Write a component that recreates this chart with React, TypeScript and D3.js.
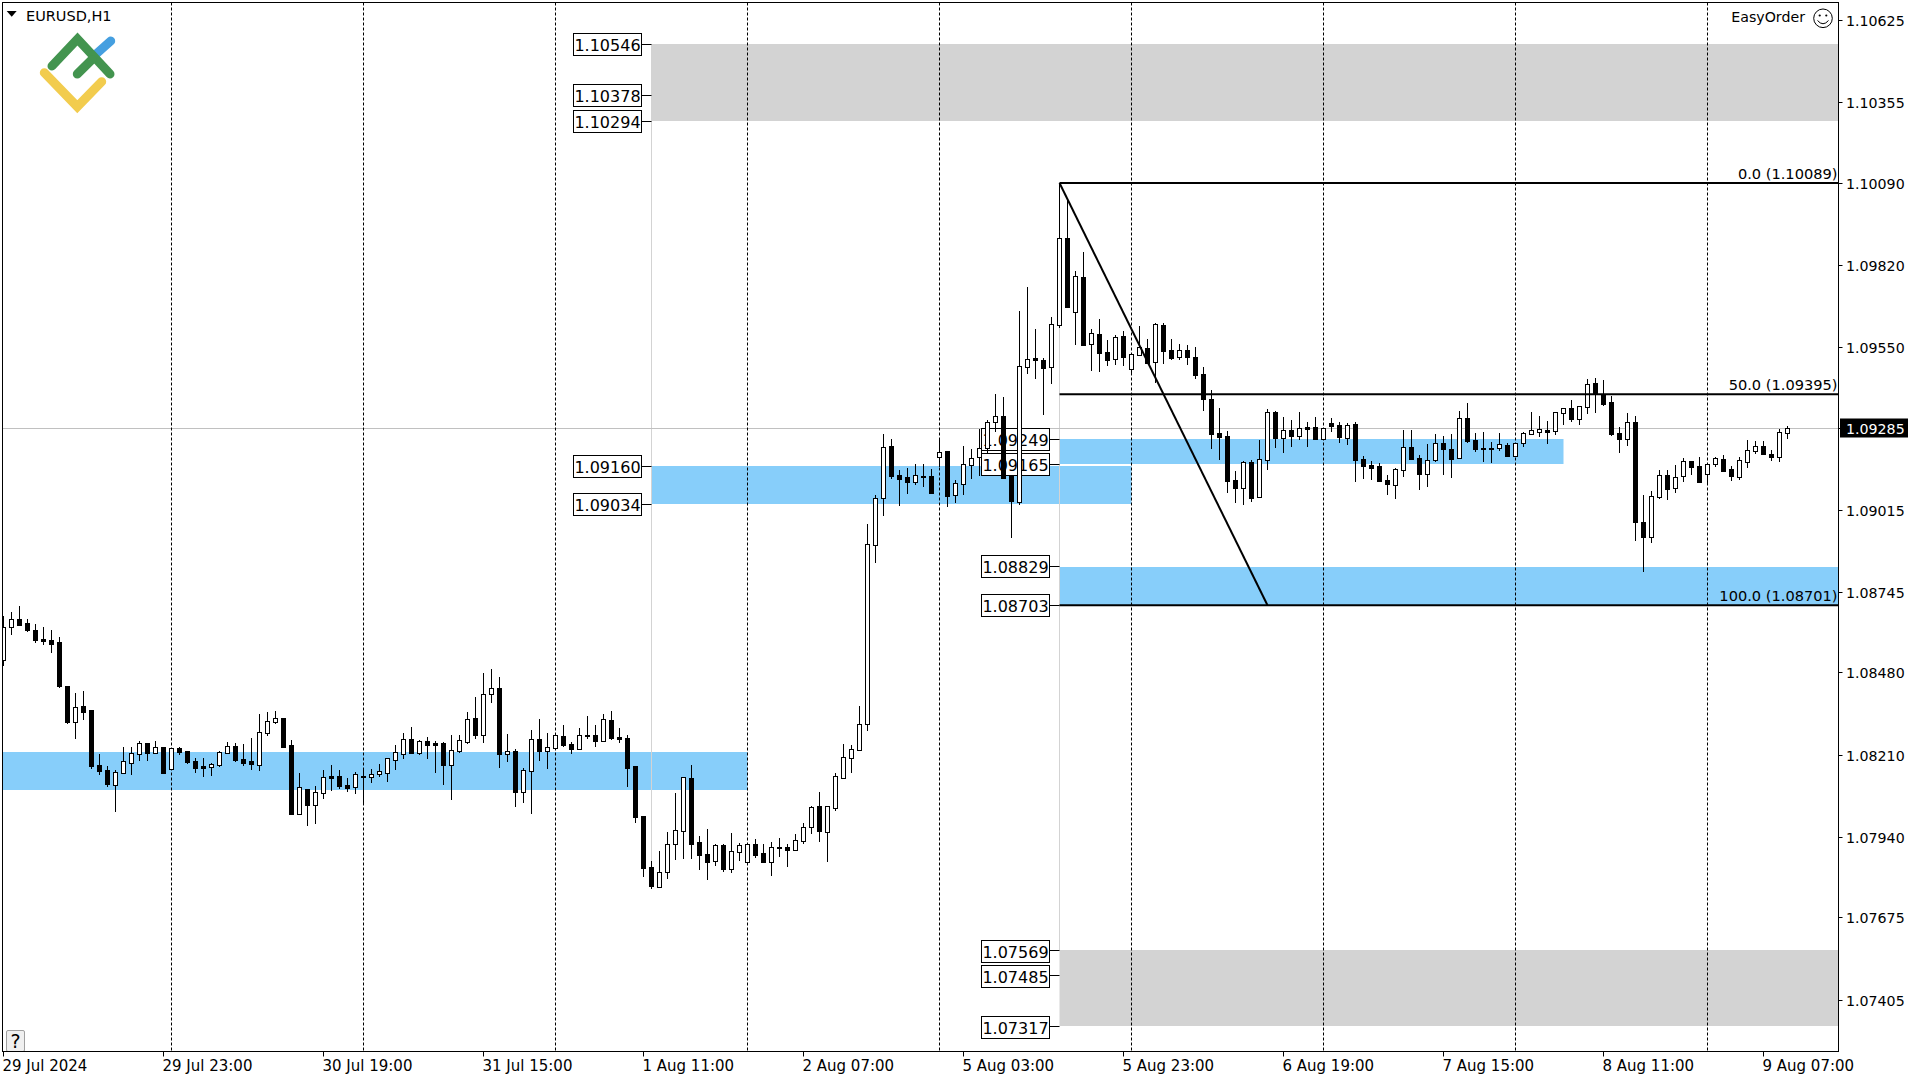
import React from "react";
import * as d3 from "d3";

const opens = [
108521,108631,108655,108642,108620,108590,108587,108580,108436,108318,
108370,108357,108176,108159,108111,108151,108184,108213,108248,108216,
108235,108164,108232,108222,108189,108173,108170,108177,108216,108238,
108196,108189,108177,108282,108318,108330,108242,108016,108096,108045,
108085,108140,108140,108110,108105,108139,108137,108147,108151,108193,
108213,108261,108216,108255,108248,108248,108177,108223,108253,108330,
108276,108410,108429,108213,108222,108088,108157,108261,108223,108233,
108271,108245,108230,108274,108274,108256,108324,108268,108265,108173,
108008,107840,107776,107825,107917,107960,108133,107922,107882,107861,
107912,107835,107891,107858,107915,107885,107858,107905,107905,107897,
107927,107973,108040,107957,108036,108134,108200,108226,108312,108899,
109055,109224,109129,109123,109107,109125,109126,109189,109208,109062,
109101,109163,109187,109217,109304,109323,109126,109041,109485,109514,
109507,109485,109621,109907,109664,109779,109559,109592,109533,109510,
109585,109477,109525,109546,109500,109621,109539,109516,109539,109516,
109460,109379,109267,109258,109113,109088,109172,109058,109177,109337,
109252,109278,109259,109287,109287,109249,109301,109294,109252,109297,
109182,109162,109159,109113,109098,109147,109222,109185,109134,109177,
109235,109215,109185,109317,109245,109217,109217,109219,109228,109193,
109233,109265,109272,109276,109275,109334,109348,109312,109353,109433,
109397,109369,109266,109248,109305,108974,108926,109058,109128,109087,
109127,109174,109158,109133,109166,109181,109149,109124,109173,109209,
109226,109198,109189,109268];
const highs = [
108666,108679,108699,108656,108639,108629,108620,108597,108436,108413,
108419,108357,108212,108173,108158,108235,108235,108255,108248,108255,
108235,108231,108235,108222,108199,108199,108182,108222,108251,108248,
108245,108265,108343,108350,108353,108330,108258,108150,108096,108107,
108159,108176,108159,108133,108153,108159,108163,108179,108198,108242,
108281,108301,108258,108268,108255,108251,108274,108274,108350,108399,
108478,108491,108465,108278,108228,108166,108291,108327,108281,108273,
108307,108251,108297,108337,108307,108343,108353,108297,108274,108173,
108008,107860,107893,107956,108084,108135,108176,107942,107965,107916,
107916,107952,107919,107918,107933,107916,107923,107936,107916,107949,
107985,108041,108087,108040,108150,108245,108242,108369,108968,109063,
109264,109247,109146,109152,109165,109165,109149,109244,109208,109113,
109224,109215,109280,109310,109395,109385,109126,109668,109747,109609,
109514,109648,110089,110033,109800,109862,109609,109642,109573,109588,
109603,109526,109619,109576,109628,109628,109576,109560,109557,109549,
109484,109408,109349,109274,109143,109176,109179,109245,109347,109340,
109320,109310,109337,109304,109320,109283,109317,109304,109301,109304,
109192,109176,109169,109130,109153,109278,109278,109195,109231,109264,
109258,109264,109340,109366,109268,109271,109238,109268,109235,109234,
109270,109337,109324,109307,109335,109351,109375,109355,109444,109448,
109441,109389,109287,109333,109323,109063,109076,109145,109145,109162,
109185,109174,109188,109167,109188,109195,109158,109188,109244,109241,
109241,109211,109280,109290];
const lows = [
108501,108603,108637,108613,108578,108570,108544,108429,108311,108261,
108324,108163,108143,108104,108021,108151,108143,108189,108189,108212,
108150,108164,108209,108179,108150,108136,108140,108169,108212,108186,
108173,108159,108156,108271,108311,108235,108011,108011,107975,107982,
108064,108090,108097,108087,108080,108051,108117,108136,108120,108159,
108196,108212,108209,108196,108150,108110,108061,108215,108245,108261,
108248,108380,108166,108186,108038,108051,108015,108189,108163,108225,
108235,108212,108230,108261,108235,108251,108258,108248,108103,107985,
107808,107768,107776,107801,107864,107867,107867,107831,107798,107844,
107824,107821,107860,107855,107870,107857,107811,107873,107840,107897,
107916,107949,107923,107857,108025,108134,108150,108226,108287,108841,
108994,109116,109027,109067,109096,109090,109067,109156,109024,109037,
109063,109116,109126,109201,109270,109116,108922,109030,109461,109445,
109326,109428,109612,109681,109557,109553,109471,109468,109488,109491,
109488,109461,109523,109494,109431,109494,109507,109507,109491,109445,
109339,109214,109178,109070,109038,109031,109041,109058,109146,109218,
109202,109222,109245,109222,109248,109248,109271,109235,109228,109107,
109116,109113,109110,109064,109051,109123,109179,109080,109090,109172,
109130,109120,109182,109235,109205,109172,109169,109208,109192,109192,
109222,109261,109254,109231,109260,109293,109303,109293,109329,109333,
109356,109257,109201,109224,108912,108810,108905,109050,109047,109070,
109106,109129,109106,109096,109155,109139,109109,109112,109152,109198,
109195,109175,109172,109247];
const closes = [
108631,108655,108637,108620,108587,108585,108574,108436,108317,108365,
108350,108173,108156,108113,108152,108188,108214,108247,108215,108234,
108150,108231,108219,108186,108166,108166,108178,108217,108237,108192,
108182,108179,108283,108319,108329,108235,108015,108102,108044,108086,
108135,108134,108107,108100,108145,108137,108145,108155,108198,108217,
108260,108215,108254,108242,108242,108176,108224,108257,108326,108274,
108408,108428,108212,108221,108087,108158,108263,108222,108234,108273,
108242,108228,108273,108271,108255,108326,108265,108261,108166,108005,
107837,107779,107823,107915,107961,108135,107916,107880,107857,107912,
107834,107892,107912,107915,107880,107857,107905,107904,107897,107928,
107971,108037,107959,108040,108139,108201,108227,108312,108904,109052,
109220,109126,109116,109106,109128,109124,109070,109204,109060,109102,
109164,109184,109217,109302,109322,109119,109044,109486,109509,109507,
109481,109624,109907,109681,109782,109557,109595,109529,109506,109582,
109516,109526,109549,109499,109625,109538,109515,109539,109516,109459,
109379,109263,109254,109111,109087,109171,109054,109181,109336,109251,
109276,109258,109283,109281,109248,109283,109291,109254,109293,109179,
109159,109153,109110,109100,109148,109221,109182,109133,109178,109234,
109215,109182,109316,109241,109215,109216,109216,109230,109192,109234,
109267,109276,109280,109272,109335,109348,109313,109355,109430,109394,
109362,109264,109247,109305,108974,108925,109059,109128,109083,109124,
109174,109155,109106,109167,109184,109142,109126,109177,109210,109226,
109198,109188,109269,109285];

const priceTicks = [1.10625, 1.10355, 1.1009, 1.0982, 1.0955, 1.09015, 1.08745, 1.0848, 1.0821, 1.0794, 1.07675, 1.07405];
const currentPrice = 1.09285;
const timeLabels = ["29 Jul 2024", "29 Jul 23:00", "30 Jul 19:00", "31 Jul 15:00", "1 Aug 11:00", "2 Aug 07:00", "5 Aug 03:00", "5 Aug 23:00", "6 Aug 19:00", "7 Aug 15:00", "8 Aug 11:00", "9 Aug 07:00"];
const separators = [21, 45, 69, 93, 117, 141, 165, 189, 213];
const LIGHTBLUE = "#87CEFA";
const LIGHTGRAY = "#D3D3D3";
const zones = [
  { from: -1, to: 93, hi: 1.08218, lo: 1.08095, color: LIGHTBLUE },
  { from: 81, to: 141, hi: 1.0916, lo: 1.09034, color: LIGHTBLUE },
  { from: 81, to: 240, hi: 1.10546, lo: 1.10294, color: LIGHTGRAY },
  { from: 132, to: 195, hi: 1.09249, lo: 1.09165, color: LIGHTBLUE },
  { from: 132, to: 240, hi: 1.08826, lo: 1.08703, color: LIGHTBLUE },
  { from: 132, to: 240, hi: 1.07569, lo: 1.07317, color: LIGHTGRAY },
];
const leftLevels = [1.10546, 1.10378, 1.10294, 1.0916, 1.09034];
const rightLevels = [1.09249, 1.09165, 1.08829, 1.08703, 1.07569, 1.07485, 1.07317];
const fibo = [
  { label: "0.0 (1.10089)", price: 1.10089 },
  { label: "50.0 (1.09395)", price: 1.09395 },
  { label: "100.0 (1.08701)", price: 1.08701 },
];
const anchorA = 81;
const anchorB = 132;
const trendEnd = 158;

const FONT = "'DejaVu Sans', sans-serif";
const L = 2.5, R = 1838.5, T = 2.5, B = 1051.5;

export default function App() {
  const x = d3.scaleLinear().domain([0, 223]).range([3.5, 1787.5]);
  const yRaw = d3.scaleLinear().domain([1.10625, 1.07405]).range([20, 999.5]);
  const y = (p: number) => Math.round(yRaw(p));
  const yh = (p: number) => y(p) + 0.5;
  const candles = d3.range(opens.length).map((i) => ({
    i, o: opens[i] / 1e5, h: highs[i] / 1e5, l: lows[i] / 1e5, c: closes[i] / 1e5,
  }));
  const fx = (i: number) => Math.min(x(i), R);
  const lineGen = d3.line<[number, number]>().x((d) => fx(d[0])).y((d) => yRaw(d[1]));
  const levelLabel = (p: number, anchor: number) => {
    const dy = p < 1.08 ? 2 : 1;
    return (
      <g key={p}>
        <line x1={fx(anchor) - 10} x2={fx(anchor)} y1={yh(p)} y2={yh(p)} stroke="#000" />
        <rect x={fx(anchor) - 78} y={y(p) - 11.5 + dy} width={68} height={22} fill="#fff" stroke="#000" />
        <text x={fx(anchor) - 44} y={y(p) + 6 + dy} textAnchor="middle" fontSize={16} fill="#000">{p.toFixed(5)}</text>
      </g>
    );
  };
  return (
    <svg width={1920} height={1080} viewBox="0 0 1920 1080" style={{ position: "fixed", left: 0, top: 0, background: "#fff" }} fontFamily={FONT}>
      <defs>
        <clipPath id="plot"><rect x={L} y={T} width={R - L} height={B - T} /></clipPath>
      </defs>
      <rect width={1920} height={1080} fill="#fff" />
      <g clipPath="url(#plot)">
        {zones.map((z, k) => (
          <rect key={k} x={fx(z.from)} width={fx(z.to) - fx(z.from)} y={y(z.hi)} height={y(z.lo) - y(z.hi)} fill={z.color} />
        ))}
        <line x1={fx(anchorA)} x2={fx(anchorA)} y1={y(1.10546)} y2={y(1.07768)} stroke={LIGHTGRAY} />
        <line x1={fx(anchorB)} x2={fx(anchorB)} y1={y(1.10089)} y2={y(1.07569)} stroke={LIGHTGRAY} />
        <line x1={L} x2={R} y1={yh(currentPrice)} y2={yh(currentPrice)} stroke="#C0C0C0" />
        {separators.map((s) => (
          <line key={s} x1={x(s)} x2={x(s)} y1={T} y2={B} stroke="#000" strokeDasharray="3 2" />
        ))}
        {leftLevels.map((p) => levelLabel(p, anchorA))}
        {rightLevels.map((p) => levelLabel(p, anchorB))}
        {candles.map((d) => {
          const cx = x(d.i);
          const bull = d.c > d.o;
          const top = y(Math.max(d.o, d.c));
          const bot = y(Math.min(d.o, d.c));
          return (
            <g key={d.i}>
              <line x1={cx} x2={cx} y1={y(d.h)} y2={y(d.l)} stroke="#000" />
              {bull ? (
                <rect x={cx - 2} y={top + 0.5} width={4} height={Math.max(1, bot - top)} fill="#fff" stroke="#000" />
              ) : (
                <rect x={cx - 2.5} y={top} width={5} height={Math.max(1, bot - top + 1)} fill="#000" />
              )}
            </g>
          );
        })}
        {fibo.map((f) => (
          <line key={f.label} x1={fx(anchorB)} x2={R} y1={yRaw(f.price)} y2={yRaw(f.price)} stroke="#000" strokeWidth={2} />
        ))}
        <path d={lineGen([[anchorB, fibo[0].price], [trendEnd, fibo[2].price]]) ?? ""} fill="none" stroke="#000" strokeWidth={2} />
        {fibo.map((f) => (
          <text key={f.label} x={R - 1} y={yRaw(f.price) - 4} textAnchor="end" fontSize={14.6} fill="#000">{f.label}</text>
        ))}
      </g>

      {/* logo */}
      <g fill="none" strokeWidth={9} strokeLinecap="round" strokeLinejoin="miter">
        <path d="M95,55L110.7,41" stroke="#459FE0" />
        <path d="M52,66L77.5,39L110,74" stroke="#43944F" />
        <path d="M77.3,74L92,59.5" stroke="#43944F" />
        <path d="M44.3,72.7L77.3,106.7L101.7,81.7" stroke="#F2CC4E" />
      </g>

      <path d="M6.7,11H16.7L11.7,16.7Z" fill="#000" />
      <text x={26} y={21} fontSize={14.5} fill="#000">EURUSD,H1</text>

      <text x={1805} y={21.5} textAnchor="end" fontSize={14.2} fill="#000">EasyOrder</text>
      <circle cx={1823} cy={18.3} r={9.3} fill="none" stroke="#000" />
      <circle cx={1819.7} cy={15.5} r={1.1} fill="#000" />
      <circle cx={1826.3} cy={15.5} r={1.1} fill="#000" />
      <path d="M1817.5,20.5Q1823,27 1828.5,20.5" fill="none" stroke="#000" />

      <rect x={6.5} y={1030.5} width={18} height={21} rx={1.5} fill="#F0F0F0" stroke="#A0A0A0" />
      <text x={15.5} y={1048} textAnchor="middle" fontSize={19} fill="#000">?</text>

      <rect x={L} y={T} width={R - L} height={B - T} fill="none" stroke="#000" />

      {priceTicks.map((p) => (
        <g key={p}>
          <line x1={R} x2={R + 4} y1={yh(p)} y2={yh(p)} stroke="#000" />
          <text x={1846} y={y(p) + 6} fontSize={14.2} fill="#000">{p.toFixed(5)}</text>
        </g>
      ))}
      <line x1={R} x2={R + 4} y1={yh(currentPrice)} y2={yh(currentPrice)} stroke="#000" />
      <rect x={1840} y={y(currentPrice) - 9.5} width={68} height={19} fill="#000" />
      <text x={1846} y={y(currentPrice) + 6} fontSize={14.2} fill="#fff">{currentPrice.toFixed(5)}</text>

      {timeLabels.map((t, k) => (
        <g key={t}>
          <line x1={x(k * 20)} x2={x(k * 20)} y1={B} y2={B + 5} stroke="#000" />
          <text x={x(k * 20) - 1} y={1071} fontSize={15} fill="#000">{t}</text>
        </g>
      ))}
    </svg>
  );
}
